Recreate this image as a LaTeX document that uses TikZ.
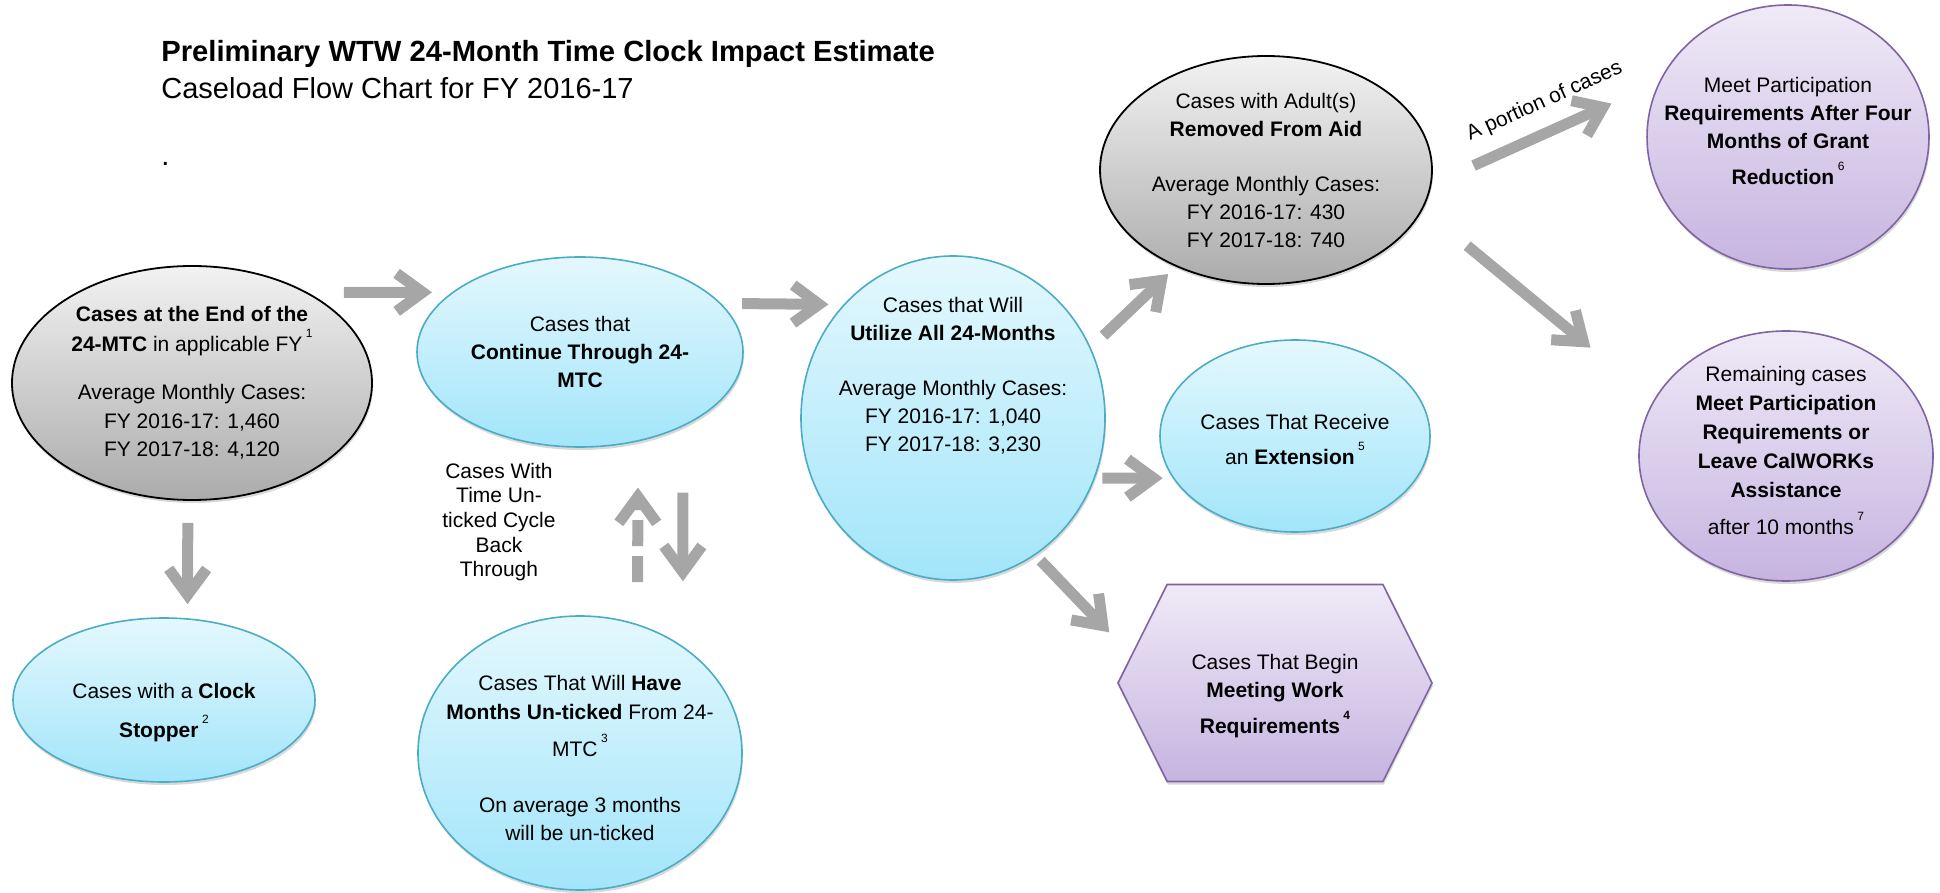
\documentclass[tikz,border=0pt]{standalone}
\usepackage{fontspec}
\setmainfont{Liberation Sans}
\usetikzlibrary{arrows.meta,shapes.geometric,shapes.symbols,shadows}

\definecolor{arrowgray}{HTML}{A6A6A6}
\definecolor{tealline}{HTML}{4BACC6}
\definecolor{tealtop}{HTML}{E4F8FD}
\definecolor{tealbot}{HTML}{A2E5FA}
\definecolor{lilacline}{HTML}{8064A2}
\definecolor{lilactop}{HTML}{EFEAF7}
\definecolor{lilacbot}{HTML}{C6B4E0}
\definecolor{greytop}{HTML}{F2F2F2}
\definecolor{greybot}{HTML}{ABABAB}

\newcommand{\fnmark}[1]{\,\raisebox{7pt}{\fontsize{6}{6}\selectfont #1}}

\begin{document}
\begin{tikzpicture}[x=0.5pt,y=-0.5pt,font=\fontsize{10.5}{14}\selectfont]
        \tikzstyle{softshadow}=[drop shadow={shadow xshift=0.5pt,shadow yshift=-1.5pt,opacity=.3}]
        \tikzstyle{greyoval}=[ellipse,draw=black,line width=0.9pt,top color=greytop,bottom color=greybot,softshadow,align=center,inner sep=-12pt]
        \tikzstyle{tealoval}=[ellipse,draw=tealline,line width=0.8pt,top color=tealtop,bottom color=tealbot,softshadow,align=center,inner sep=-12pt]
        \tikzstyle{lilacoval}=[ellipse,draw=lilacline,line width=0.8pt,top color=lilactop,bottom color=lilacbot,softshadow,align=center,inner sep=-12pt]
        \tikzstyle{flow}=[color=arrowgray,line width=5.5pt,-{Straight Barb[length=13pt,width=19pt]}]

        \useasboundingbox (0,0) rectangle (1940,893);

        % heading
        \node[anchor=base west,inner sep=0pt,font=\fontsize{14.6}{17}\selectfont\bfseries] (title) at (161,62) {Preliminary WTW 24-Month Time Clock Impact Estimate};
        \node[anchor=base west,inner sep=0pt,font=\fontsize{14.5}{17}\selectfont] (subtitle) at (161,99) {Caseload Flow Chart for FY 2016-17};
        \node[anchor=base west,inner sep=0pt,font=\fontsize{14.5}{17}\selectfont] (dot) at (161,166) {.};

        % cases entering the clock
        \node[greyoval,minimum width=180pt,minimum height=117pt] (atend) at (192,383)
                {\textbf{Cases at the End of the}\\[1pt]
                 \textbf{24-MTC} in applicable FY\fnmark{1}\\[10pt]
                 Average Monthly Cases:\\[0.5pt] FY 2016-17: 1,460\\ FY 2017-18: 4,120};
        \node[tealoval,minimum width=151pt,minimum height=82pt] (stopper) at (164,700)
                {\mbox{}\\[6pt] Cases with a \textbf{Clock}\\[5.5pt] \textbf{Stopper}\fnmark{2}};
        \node[tealoval,minimum width=163pt,minimum height=95pt] (cont) at (580,352)
                {Cases that\\ \textbf{Continue Through 24-}\\ \textbf{MTC}};
        \node[tealoval,minimum width=162pt,minimum height=137pt] (unticked) at (580,753)
                {\mbox{}\\[-1.6pt] Cases That Will \textbf{Have}\\[0.5pt]
                 \textbf{Months Un-ticked} From 24-\\[4.5pt]
                 MTC\fnmark{3}\\[14pt]
                 On average 3 months\\ will be un-ticked};
        \node[align=center,inner sep=0pt,font=\fontsize{10.5}{12.3}\selectfont] (cycle) at (499,522)
                {Cases With\\ Time Un-\\ ticked Cycle\\ Back\\ Through};

        % cases using all 24 months
        \node[tealoval,minimum width=152pt,minimum height=162pt] (utilize) at (953,418)
                {Cases that Will\\ \textbf{Utilize All 24-Months}\\[13.5pt]
                 Average Monthly Cases:\\ FY 2016-17: 1,040\\ FY 2017-18: 3,230\\[30pt]\mbox{}};
        \node[greyoval,minimum width=166pt,minimum height=114pt] (removed) at (1266,170)
                {Cases with Adult(s)\\ \textbf{Removed From Aid}\\[13.5pt]
                 Average Monthly Cases:\\ FY 2016-17: 430\\ FY 2017-18: 740};
        \node[tealoval,minimum width=135pt,minimum height=96pt] (extension) at (1295,436)
                {\mbox{}\\[-3pt] Cases That Receive\\[3.5pt] an \textbf{Extension}\fnmark{5}};
        \node[signal,signal to=west and east,signal pointer angle=127,draw=lilacline,line width=0.8pt,
              top color=lilactop,bottom color=lilacbot,softshadow,align=center,inner sep=0pt,
              minimum width=157pt,minimum height=98.5pt] (working) at (1275,683)
                {\mbox{}\\[6.5pt] Cases That Begin\\ \textbf{Meeting Work}\\[4pt] \textbf{Requirements}\fnmark{\textbf{4}}};

        % after removal from aid
        \node[lilacoval,minimum width=138pt,minimum height=132pt] (fourmonths) at (1788,137)
                {Meet Participation\\ \textbf{Requirements After Four}\\ \textbf{Months of Grant}\\[4pt]
                 \textbf{Reduction}\fnmark{6}\\[-8pt]\mbox{}};
        \node[lilacoval,minimum width=147pt,minimum height=125pt,font=\fontsize{10.5}{14.5}\selectfont] (remaining) at (1786,456)
                {Remaining cases\\ \textbf{Meet Participation}\\ \textbf{Requirements or}\\
                 \textbf{Leave CalWORKs}\\ \textbf{Assistance}\\[4pt] after 10 months\fnmark{7}\\[-9pt]\mbox{}};

        \path[flow]
                (atend.38)      edge[shorten <=18pt,shorten >=10pt]   (cont.155)
                (atend.268)     edge[shorten <=11pt,shorten >=7pt]    (stopper.74)
                (cont.19)       edge[shorten <=10.5pt,shorten >=7.5pt] (utilize.134)
                (unticked.66)   edge[dashed,dash pattern=on 13pt off 5pt,shorten <=21pt,shorten >=23pt] (cont.-57)
                (cont.-36)      edge[shorten <=33pt,shorten >=32.5pt] (unticked.46)
                (utilize.27)    edge[shorten <=8.7pt,shorten >=5.3pt]  (removed.227)
                (utilize.-23)   edge[shorten <=3.7pt,shorten >=5pt]    (extension.199)
                (utilize.-59)   edge[shorten <=3.8pt,shorten >=15.7pt] (working.169)
                (removed.-5)    edge[shorten <=23pt,shorten >=26pt]
                                node[pos=0.55,sloped,above=7pt,inner sep=0pt,text=black] {A portion of cases} (fourmonths.157)
                (removed.-14)   edge[shorten <=28.7pt,shorten >=41pt]  (remaining.157)
                ;
\end{tikzpicture}
\end{document}
